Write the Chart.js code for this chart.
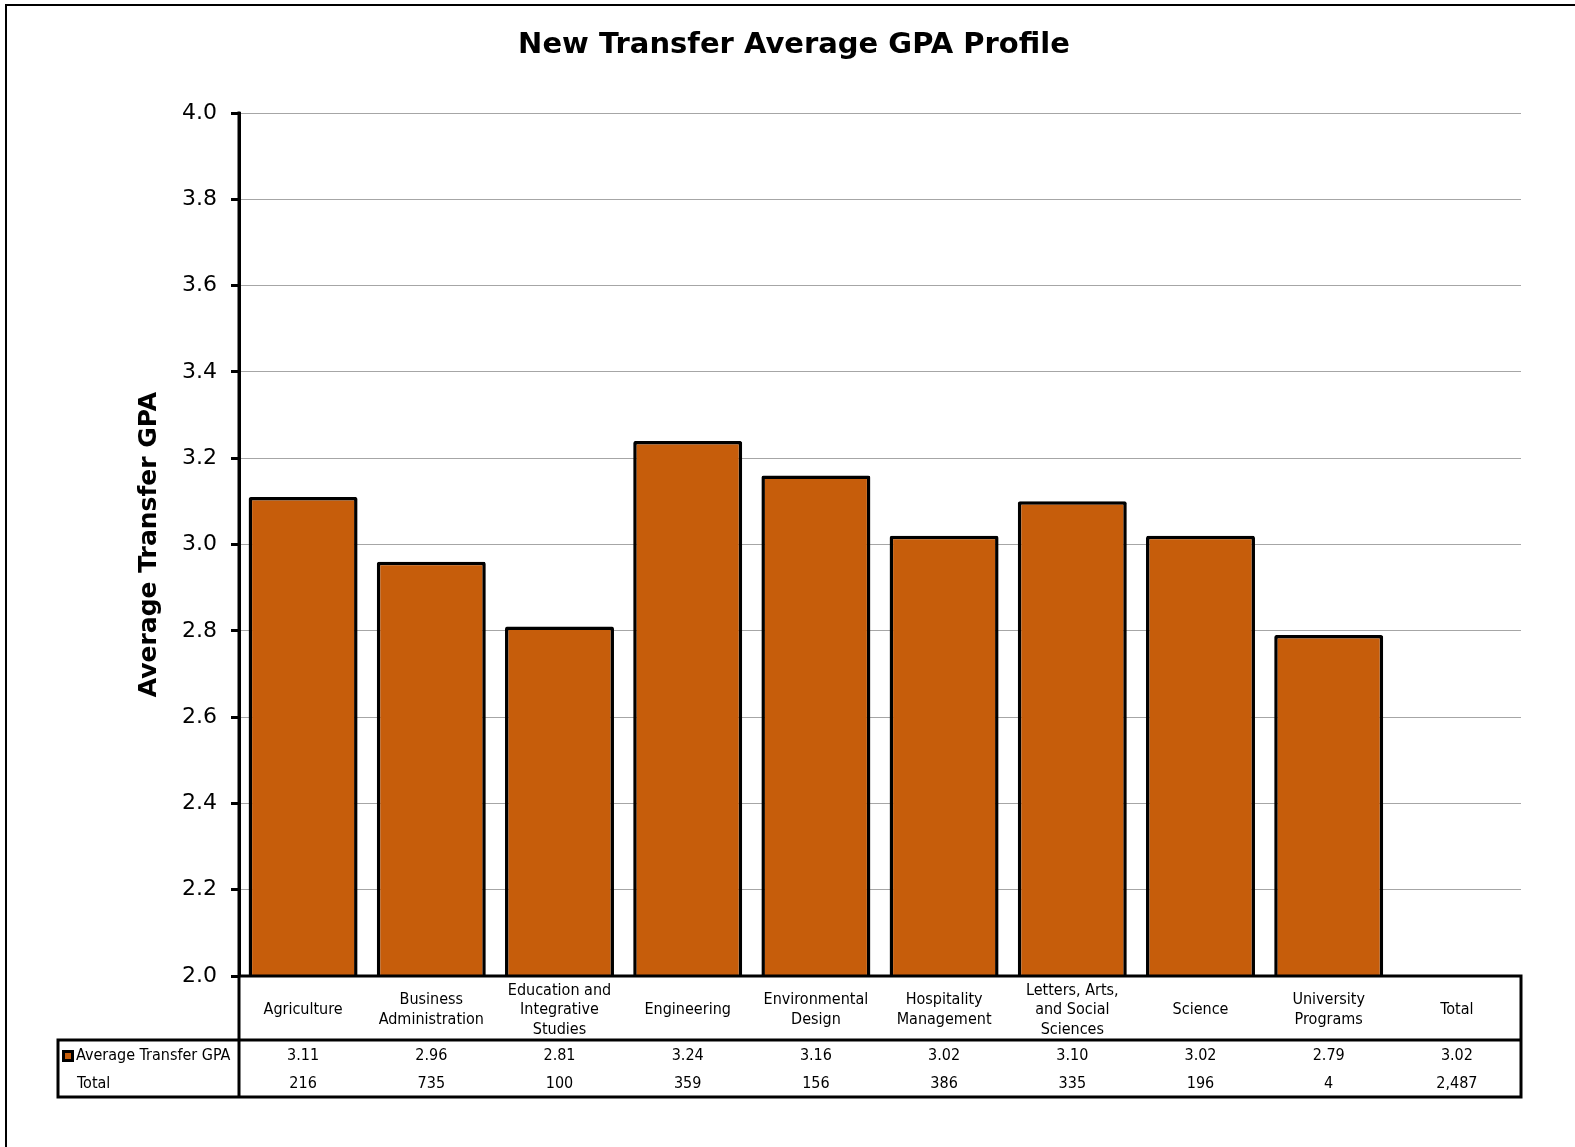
<!DOCTYPE html>
<html>
<head>
<meta charset="utf-8">
<title>New Transfer Average GPA Profile</title>
<script src="https://cdn.jsdelivr.net/npm/chart.js@4"></script>
<style>
    html, body { margin: 0; padding: 0; background: #fff; overflow: hidden; }
    #wrap { position: relative; width: 1575px; height: 1147px; }
</style>
</head>
<body>
<div id="wrap"><canvas id="gpaChart"></canvas></div>
<script>
// Chart data
const chartTitle = 'New Transfer Average GPA Profile';
const categories = [
    ['Agriculture'],
    ['Business', 'Administration'],
    ['Education and', 'Integrative', 'Studies'],
    ['Engineering'],
    ['Environmental', 'Design'],
    ['Hospitality', 'Management'],
    ['Letters, Arts,', 'and Social', 'Sciences'],
    ['Science'],
    ['University', 'Programs'],
    ['Total']
];
const gpaValues = [3.11, 2.96, 2.81, 3.24, 3.16, 3.02, 3.10, 3.02, 2.79, 3.02];
const totalCounts = [216, 735, 100, 359, 156, 386, 335, 196, 4, 2487];
const rowLabels = ['Average Transfer GPA', 'Total'];
const yTicks = [2.0, 2.2, 2.4, 2.6, 2.8, 3.0, 3.2, 3.4, 3.6, 3.8, 4.0];

const BAR_COLOR = '#C65D0B';
const FONT = '"DejaVu Sans Condensed", "Liberation Sans", sans-serif';
const WIDE_FONT = '"DejaVu Sans", sans-serif';

// the Total column has no bar, only a table entry
const barValues = gpaValues.map((v, i) => categories[i][0] === 'Total' ? null : v);

// Frame (left and top edges only are visible) and the title
const frameAndTitle = {
    id: 'frameAndTitle',
    beforeDraw(chart) {
        const ctx = chart.ctx;
        ctx.save();
        ctx.strokeStyle = '#000';
        ctx.lineWidth = 2;
        ctx.beginPath();
        ctx.moveTo(6, chart.height);
        ctx.lineTo(6, 5);
        ctx.lineTo(chart.width, 5);
        ctx.stroke();

        ctx.fillStyle = '#000';
        ctx.font = 'bold 29px ' + WIDE_FONT;
        ctx.textAlign = 'center';
        ctx.textBaseline = 'middle';
        ctx.fillText(chartTitle, 794, 45);
        ctx.restore();
    }
};

// Excel-style data table under the plot
const dataTable = {
    id: 'dataTable',
    afterDraw(chart) {
        const ctx = chart.ctx;
        const xs = chart.scales.x;
        const area = chart.chartArea;
        const top = area.bottom;
        const headBottom = top + 64;
        const row1 = top + 80;
        const row2 = top + 108;
        const bottom = top + 121;
        const labelLeft = 58;

        ctx.save();
        ctx.fillStyle = '#000';
        ctx.textAlign = 'center';
        ctx.textBaseline = 'middle';
        ctx.font = '16px ' + FONT;

        categories.forEach((lines, i) => {
            const cx = xs.getPixelForValue(i);
            const lh = 19.5;
            const startY = top + 34 - (lines.length - 1) * lh / 2;
            lines.forEach((line, j) => ctx.fillText(line, cx, startY + j * lh));
            ctx.fillText(gpaValues[i].toFixed(2), cx, row1);
            ctx.fillText(totalCounts[i].toLocaleString('en-US'), cx, row2);
        });

        // row labels
        ctx.textAlign = 'left';
        ctx.fillText(rowLabels[0], labelLeft + 18, row1);
        ctx.fillText(rowLabels[1], labelLeft + 19, row2);

        // legend key
        ctx.fillStyle = '#000';
        ctx.fillRect(labelLeft + 4, row1 - 6, 12, 12);
        ctx.fillStyle = BAR_COLOR;
        ctx.fillRect(labelLeft + 7, row1 - 3, 6, 6);

        // table borders
        ctx.strokeStyle = '#000';
        ctx.lineWidth = 3;
        ctx.lineCap = 'square';
        ctx.beginPath();
        ctx.moveTo(area.left, top);
        ctx.lineTo(area.right, top);
        ctx.lineTo(area.right, bottom);
        ctx.lineTo(labelLeft, bottom);
        ctx.lineTo(labelLeft, headBottom);
        ctx.lineTo(area.right, headBottom);
        ctx.moveTo(area.left, area.top);
        ctx.lineTo(area.left, bottom);
        ctx.stroke();
        ctx.restore();
    }
};

const ctx = document.getElementById('gpaChart').getContext('2d');
new Chart(ctx, {
    type: 'bar',
    data: {
        labels: categories,
        datasets: [{
            label: rowLabels[0],
            data: barValues,
            backgroundColor: BAR_COLOR,
            borderColor: '#000',
            borderWidth: 3.5,
            borderSkipped: false,
            borderRadius: 2,
            barPercentage: 0.85,
            categoryPercentage: 1
        }]
    },
    options: {
        responsive: true,
        maintainAspectRatio: false,
        animation: false,
        devicePixelRatio: 1,
        layout: { padding: { left: 0, right: 54, top: 113, bottom: 0 } },
        plugins: {
            legend: { display: false },
            tooltip: { enabled: false },
            title: { display: false }
        },
        scales: {
            x: {
                ticks: { display: false },
                grid: { display: false },
                border: { display: false },
                afterFit(scale) { scale.height = 171; }
            },
            y: {
                min: yTicks[0],
                max: yTicks[yTicks.length - 1],
                afterBuildTicks(scale) {
                    scale.ticks = yTicks.map(v => ({ value: v }));
                },
                afterFit(scale) { scale.width = 239; },
                ticks: {
                    color: '#000',
                    padding: 14,
                    font: { family: WIDE_FONT, size: 22 },
                    callback: v => Number(v).toFixed(1)
                },
                grid: {
                    color: '#a6a6a6',
                    lineWidth: 1,
                    tickColor: '#000',
                    tickWidth: 3,
                    tickLength: 8
                },
                border: { color: '#000', width: 3 },
                title: {
                    display: true,
                    text: 'Average Transfer GPA',
                    color: '#000',
                    font: { family: WIDE_FONT, size: 25, weight: 'bold' },
                    padding: { top: 134, bottom: 0 }
                }
            }
        }
    },
    plugins: [frameAndTitle, dataTable]
});
</script>
</body>
</html>
